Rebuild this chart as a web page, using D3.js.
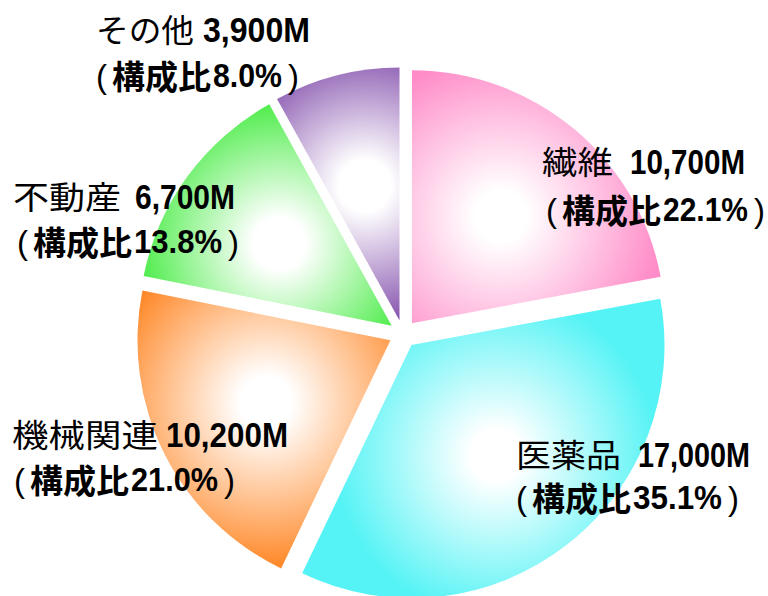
<!DOCTYPE html>
<html>
<head>
<meta charset="utf-8">
<script src="https://cdn.jsdelivr.net/npm/d3@7"></script>
<style>
  html, body { margin: 0; padding: 0; background: #fff; }
  svg { display: block; }
  text { font-family: 'Liberation Sans', 'Noto Sans CJK JP', sans-serif; fill: #000; }
</style>
</head>
<body>
<div id="chart"></div>
<script>
// data, clockwise from 12 o'clock
const categories = ['繊維', '医薬品', '機械関連', '不動産', 'その他'];
const values = [10700, 17000, 10200, 6700, 3900];
const shares = ['22.1', '35.1', '21.0', '13.8', '8.0'];
const colors = ['#ff8cc8', '#55f3f5', '#ff8a2c', '#2ee82a', '#6c2e9c'];

// label placement (same order as categories)
// k = kanji part, d = number part, p = "( ... )" line
const labelLayout = [
    { k: [543, 612], d: [630, 745], y1: 174, p: [547, 763], y2: 221 },
    { k: [517, 620], d: [638, 750], y1: 467, p: [517, 737], y2: 509 },
    { k: [13, 157],  d: [166, 288], y1: 447, p: [15, 233],  y2: 491 },
    { k: [14, 120],  d: [135, 235], y1: 209, p: [18, 237],  y2: 253 },
    { k: [97, 193],  d: [203, 310], y1: 42,  p: [97, 297],  y2: 87 }
];

function init() {
    const width = 768;
    const height = 596;
    const cx = 403, cy = 334;
    const radius = 253;
    const explode = 14;

    const svg = d3.select('#chart')
        .append('svg')
        .attr('width', width)
        .attr('height', height);

    const defs = svg.append('defs');

    const pie = d3.pie().sort(null).value(d => d);
    const arcs = pie(values);

    const arc = d3.arc()
        .innerRadius(0)
        .outerRadius(radius);

    const pieG = svg.append('g')
        .attr('transform', `translate(${cx},${cy})`);

    // one radial gradient per slice, white in the middle of the slice
    arcs.forEach((d, i) => {
        const mid = (d.startAngle + d.endAngle) / 2;
        const half = d3.interpolateRgb('#ffffff', colors[i])(0.5);
        const gr = defs.append('radialGradient')
            .attr('id', 'grad' + i)
            .attr('gradientUnits', 'userSpaceOnUse')
            .attr('cx', Math.sin(mid) * radius * 0.55)
            .attr('cy', -Math.cos(mid) * radius * 0.55)
            .attr('r', radius * 0.64);
        gr.append('stop').attr('offset', '0').attr('stop-color', '#ffffff');
        gr.append('stop').attr('offset', '0.16').attr('stop-color', '#ffffff');
        gr.append('stop').attr('offset', '0.58').attr('stop-color', half);
        gr.append('stop').attr('offset', '1').attr('stop-color', colors[i]);
    });

    pieG.selectAll('g.slice')
        .data(arcs)
        .enter().append('g')
        .attr('class', 'slice')
        .attr('transform', d => {
            const mid = (d.startAngle + d.endAngle) / 2;
            return `translate(${Math.sin(mid) * explode},${-Math.cos(mid) * explode})`;
        })
        .append('path')
        .attr('d', arc)
        .attr('fill', (d, i) => `url(#grad${i})`);

    // labels
    const labels = svg.append('g');

    function piece(x, y, w, str, size, weight) {
        const t = labels.append('text')
            .attr('x', x)
            .attr('y', y)
            .style('font-size', size + 'px')
            .style('font-weight', weight)
            .text(str);
        if (w) t.attr('textLength', w).attr('lengthAdjust', 'spacingAndGlyphs');
        return t;
    }

    categories.forEach((name, i) => {
        const L = labelLayout[i];

        // first line: name + amount
        piece(L.k[0] - 1, L.y1, L.k[1] - L.k[0] + 2, name, 32, 'normal');
        piece(L.d[0], L.y1, L.d[1] - L.d[0], d3.format(',')(values[i]) + 'M', 35, 'bold');

        // second line: (構成比xx.x%)
        const x0 = L.p[0], x1 = L.p[1];
        piece(x0 - 1, L.y2 + 1, null, '(', 33, 'normal');
        const kan = piece(x0 + 15, L.y2 + 2, null, '構成比', 33, 'bold');
        const kw = kan.node().getComputedTextLength();
        const dStart = x0 + 15 + kw + 2;
        piece(dStart, L.y2, x1 - 15 - dStart, shares[i] + '%', 34, 'bold');
        piece(x1 - 9, L.y2 + 1, null, ')', 33, 'normal');
    });
}

window.onload = init;
</script>
</body>
</html>
